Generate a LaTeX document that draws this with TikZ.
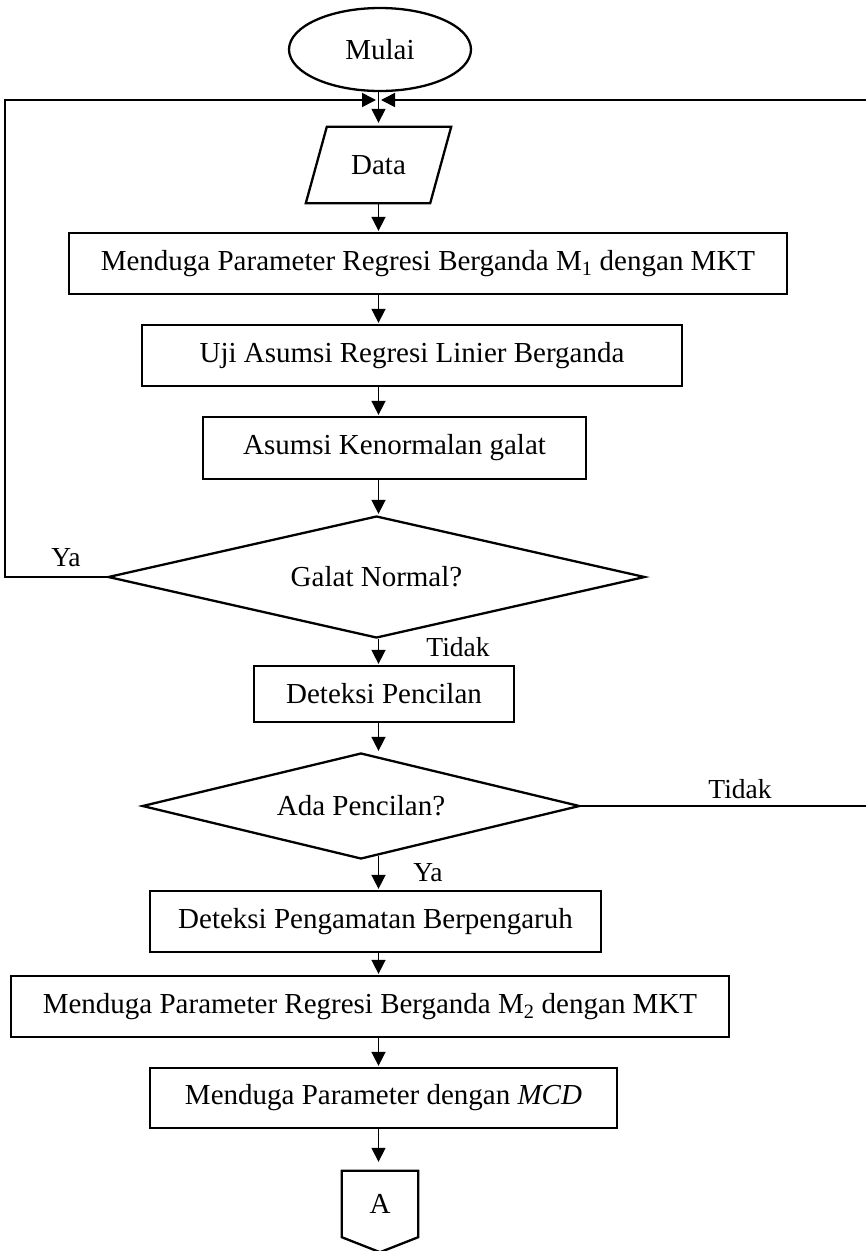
\documentclass[tikz,border=0pt]{standalone}
\usepackage{fontspec}
\setmainfont{Liberation Serif}
\usetikzlibrary{shapes.geometric,arrows.meta,calc}
\begin{document}
\begin{tikzpicture}[x=1pt,y=-1pt,
  every node/.style={font=\fontsize{29}{34}\selectfont},
  shapeline/.style={line width=2.3pt, line join=miter},
  proc/.style={shapeline, draw, rectangle, inner sep=0pt, align=center},
  decision/.style={shapeline, draw, diamond, inner sep=0pt},
  conn/.style={line width=1.6pt},
  arr/.style={conn, -{Triangle[length=14pt,width=14pt]}},
  lbl/.style={font=\fontsize{27.5}{32}\selectfont, inner sep=1pt},
]
\path[use as bounding box] (0,0) rectangle (866,1251);
\clip (0,0) rectangle (866,1251);
\fill[white] (0,0) rectangle (866,1251);

% axis of the flow
\coordinate (ax) at (378.5,0);

% nodes
\node[shapeline, draw, ellipse, minimum width=182pt, minimum height=83pt, inner sep=0pt] (start) at (380,49.5) {Mulai};

\node[minimum width=145pt, minimum height=76pt, inner sep=0pt] (data) at (378.5,165) {Data};
\draw[shapeline] ($(data.north west)+(21,0)$) -- (data.north east) -- ($(data.south east)+(-21,0)$) -- (data.south west) -- cycle;

\node[proc, minimum width=718pt, minimum height=61pt] (m1) at (428,263.5) {Menduga Parameter Regresi Berganda M\textsubscript{1} dengan MKT};
\node[proc, minimum width=540pt, minimum height=61pt] (uji) at (412,355.5) {Uji Asumsi Regresi Linier Berganda};
\node[proc, minimum width=383pt, minimum height=62pt] (normal) at (394.5,448) {Asumsi Kenormalan galat};
\node[decision, aspect=4.4, minimum width=537pt, minimum height=122pt] (gn) at (376.5,577) {Galat Normal?};
\node[proc, minimum width=259.5pt, minimum height=56pt] (dp) at (384,694) {Deteksi Pencilan};
\node[decision, aspect=4.1, minimum width=437.5pt, minimum height=106pt] (ap) at (361,806) {Ada Pencilan?};
\node[proc, minimum width=451pt, minimum height=61pt] (dpb) at (375.5,921.5) {Deteksi Pengamatan Berpengaruh};
\node[proc, minimum width=718pt, minimum height=61pt] (m2) at (370,1006.5) {Menduga Parameter Regresi Berganda M\textsubscript{2} dengan MKT};
\node[proc, minimum width=467pt, minimum height=60pt] (mcd) at (383.5,1098) {Menduga Parameter dengan \textit{MCD}};

\node[minimum width=76pt, minimum height=66pt, inner sep=0pt] (offA) at (380,1204) {A};
\draw[shapeline] (offA.north west) -- (offA.north east) -- (offA.south east) -- ($(offA.south)+(0,15)$) -- (offA.south west) -- cycle;

% merge points
\coordinate (mL) at (376,100);
\coordinate (mR) at (381,100);
\coordinate (lc) at (5,100);
\coordinate (rc) at (885,100);

% connectors
\draw[arr, shorten >=4pt] (start.south -| ax) -- (data.north -| ax);
\draw[arr, shorten >=1pt] (data.south -| ax) -- (m1.north -| ax);
\draw[arr, shorten >=1pt] (m1.south -| ax) -- (uji.north -| ax);
\draw[arr, shorten >=1pt] (uji.south -| ax) -- (normal.north -| ax);
\draw[arr, shorten >=1pt] (normal.south -| ax) -- (gn.north -| ax);
\draw[arr, shorten >=1pt] (gn.south -| ax) -- (dp.north -| ax);
\draw[arr, shorten >=1pt] (dp.south -| ax) -- (ap.north -| ax);
\draw[arr, shorten >=1pt] ($(ap.south -| ax)+(0,-4)$) -- (dpb.north -| ax);
\draw[arr, shorten >=1pt] (dpb.south -| ax) -- (m2.north -| ax);
\draw[arr, shorten >=1pt] (m2.south -| ax) -- (mcd.north -| ax);
\draw[arr, shorten >=9pt] (mcd.south -| ax) -- (offA.north -| ax);

% loops
\draw[arr] (gn.west) -| (lc) -- (mL);
\draw[arr] (ap.east) -| (rc) -- (mR);

% labels
\node[lbl] (ya1) at (66,558) {Ya};
\node[lbl] (tidak1) at (458,647) {Tidak};
\node[lbl] (tidak2) at (740,789) {Tidak};
\node[lbl] (ya2) at (428,873) {Ya};
\end{tikzpicture}
\end{document}
